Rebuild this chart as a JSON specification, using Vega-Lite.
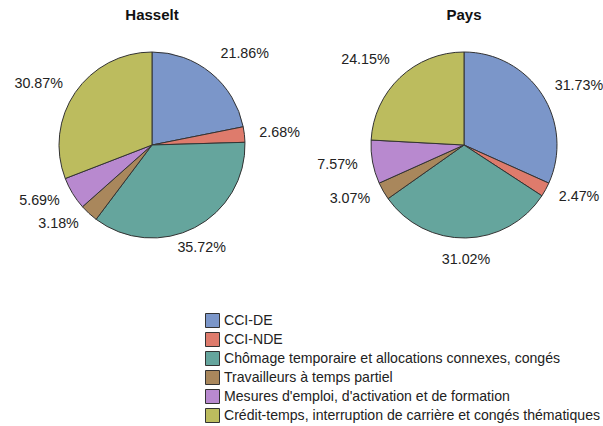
{
  "$schema": "https://vega.github.io/schema/vega-lite/v6.json",
  "padding": {"left": 2, "top": 8, "right": 0, "bottom": 0},
  "background": "white",
  "config": {
    "font": "Liberation Sans",
    "view": {"stroke": null},
    "legend": {"labelLimit": 600}
  },
  "data": {
    "values": [
      {"region": "Hasselt", "cat": "CCI-DE", "pct": 0.2186},
      {"region": "Hasselt", "cat": "CCI-NDE", "pct": 0.0268},
      {"region": "Hasselt", "cat": "Chômage temporaire et allocations connexes, congés", "pct": 0.3572},
      {"region": "Hasselt", "cat": "Travailleurs à temps partiel", "pct": 0.0318},
      {"region": "Hasselt", "cat": "Mesures d'emploi, d'activation et de formation", "pct": 0.0569},
      {"region": "Hasselt", "cat": "Crédit-temps, interruption de carrière et congés thématiques", "pct": 0.3087},
      {"region": "Pays", "cat": "CCI-DE", "pct": 0.3173},
      {"region": "Pays", "cat": "CCI-NDE", "pct": 0.0247},
      {"region": "Pays", "cat": "Chômage temporaire et allocations connexes, congés", "pct": 0.3102},
      {"region": "Pays", "cat": "Travailleurs à temps partiel", "pct": 0.0307},
      {"region": "Pays", "cat": "Mesures d'emploi, d'activation et de formation", "pct": 0.0757},
      {"region": "Pays", "cat": "Crédit-temps, interruption de carrière et congés thématiques", "pct": 0.2415}
    ]
  },
  "transform": [
    {"window": [{"op": "row_number", "as": "idx"}], "groupby": ["region"]},
    {"window": [{"op": "sum", "field": "pct", "as": "cum"}], "groupby": ["region"], "sort": [{"field": "idx"}], "frame": [null, 0]},
    {"joinaggregate": [{"op": "sum", "field": "pct", "as": "tot"}], "groupby": ["region"]},
    {"calculate": "360*(datum.cum - datum.pct/2)/datum.tot", "as": "mid"}
  ],
  "facet": {
    "column": {
      "field": "region",
      "type": "nominal",
      "sort": ["Hasselt", "Pays"],
      "header": {"title": null, "labelFontSize": 15, "labelFontWeight": "bold", "labelColor": "#111", "labelPadding": 6}
    }
  },
  "spacing": 12,
  "resolve": {"scale": {"theta": "independent"}},
  "spec": {
    "width": 300,
    "height": 232,
    "encoding": {
      "theta": {"field": "pct", "type": "quantitative", "stack": true},
      "order": {"field": "idx", "type": "quantitative"}
    },
    "layer": [
      {
        "mark": {"type": "arc", "outerRadius": 93, "stroke": "#333", "strokeWidth": 1},
        "encoding": {
          "color": {
            "field": "cat",
            "type": "nominal",
            "scale": {
              "domain": ["CCI-DE", "CCI-NDE", "Chômage temporaire et allocations connexes, congés", "Travailleurs à temps partiel", "Mesures d'emploi, d'activation et de formation", "Crédit-temps, interruption de carrière et congés thématiques"],
              "range": ["#7b96c9", "#de7b6c", "#65a59d", "#a9875c", "#b889cf", "#bcbc5e"]
            },
            "legend": {
              "title": null,
              "orient": "none",
              "legendX": 203,
              "legendY": 284,
              "direction": "vertical",
              "symbolType": "square",
              "symbolSize": 196,
              "symbolStrokeColor": "#333",
              "symbolStrokeWidth": 1,
              "symbolOpacity": 1,
              "labelFontSize": 14.1,
              "labelColor": "#222",
              "rowPadding": 0,
              "labelOffset": 4
            }
          }
        }
      },
      {
        "mark": {
          "type": "text",
          "radius": 108,
          "fontSize": 14.3,
          "fill": "#222",
          "align": {"expr": "datum.mid > 150 && datum.mid < 210 ? 'center' : (datum.mid < 180 ? 'left' : 'right')"},
          "baseline": {"expr": "datum.mid > 150 && datum.mid < 210 ? 'top' : ((datum.mid < 50 || datum.mid > 310) ? 'bottom' : 'middle')"}
        },
        "encoding": {
          "detail": {"field": "cat", "type": "nominal"},
          "text": {"field": "pct", "type": "quantitative", "format": ".2%"}
        }
      }
    ]
  }
}
